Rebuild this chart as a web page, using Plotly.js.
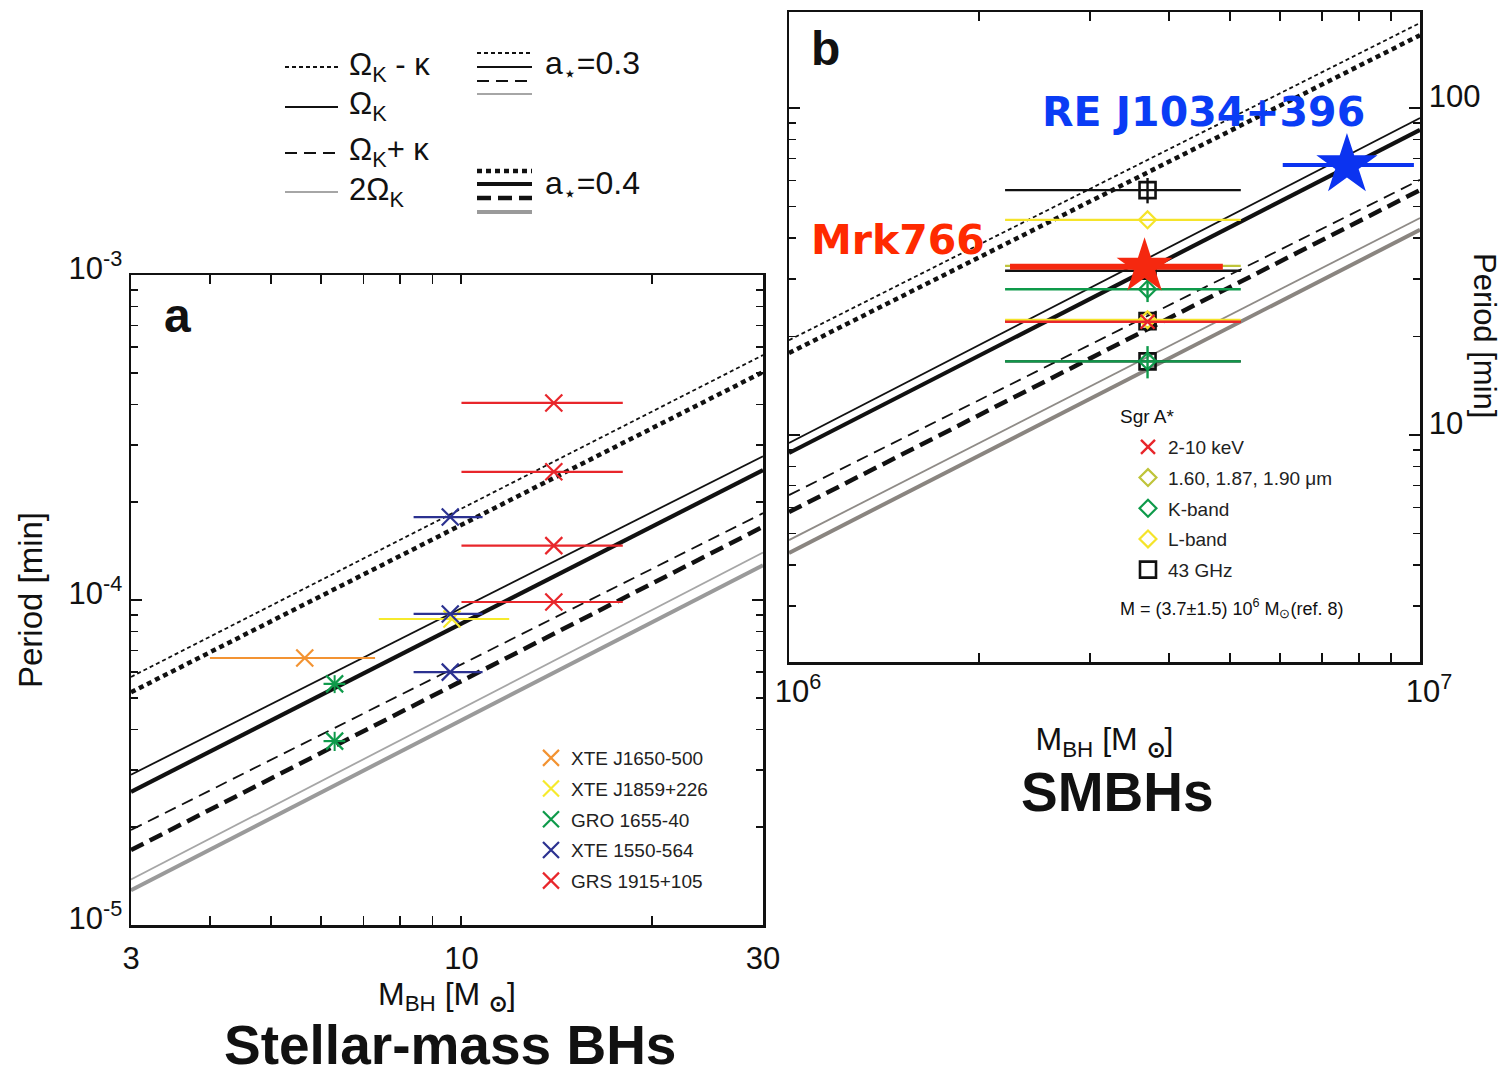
<!DOCTYPE html>
<html><head><meta charset="utf-8">
<script src="https://cdn.plot.ly/plotly-3.0.1.min.js"></script>
<style>html,body{margin:0;padding:0;background:#fff}#chart{width:1504px;height:1083px}</style>
</head><body><div id="chart"></div>
<script>
// ---------- DATA ----------
// Panel a: theoretical period lines, value at M = 3 and M = 30 Msun (min)
const massEndsA = [3, 30];
const pA_okMinusK_03 = [5.8e-5, 5.67e-4];
const pA_okMinusK_04 = [5.2e-5, 5.03e-4];
const pA_ok_03 = [2.9e-5, 2.77e-4];
const pA_ok_04 = [2.57e-5, 2.51e-4];
const pA_okPlusK_03 = [1.96e-5, 1.85e-4];
const pA_okPlusK_04 = [1.70e-5, 1.68e-4];
const pA_2ok_03 = [1.38e-5, 1.40e-4];
const pA_2ok_04 = [1.28e-5, 1.28e-4];

// Panel b: theoretical lines, value at M = 1e6 and 1e7 Msun (min)
const massEndsB = [1e6, 1e7];
const pB_okMinusK_03 = [19.5, 182];
const pB_okMinusK_04 = [17.8, 167];
const pB_ok_03 = [9.45, 93.2];
const pB_ok_04 = [8.81, 85.7];
const pB_okPlusK_03 = [6.55, 60.3];
const pB_okPlusK_04 = [5.81, 56.1];
const pB_2ok_03 = [4.77, 46.1];
const pB_2ok_04 = [4.36, 42.4];

// Stellar-mass BH QPOs
const sources = ['XTE J1650-500', 'XTE J1859+226', 'GRO 1655-40', 'XTE 1550-564', 'GRS 1915+105'];
const srcMass = [5.65, 9.66, 6.3, 9.6, 14.0];
const srcMassLo = [4.0, 7.4, 6.05, 8.4, 10.0];
const srcMassHi = [7.3, 11.9, 6.55, 10.8, 18.0];
const period_J1650 = [6.63e-5];
const period_J1859 = [8.74e-5];
const period_GRO1655 = [5.52e-5, 3.68e-5];
const periodErr_GRO1655 = [3.5e-6, 2.5e-6];
const period_XTE1550 = [1.80e-4, 9.06e-5, 6.0e-5];
const period_GRS1915 = [4.04e-4, 2.48e-4, 1.47e-4, 9.86e-5];

// Sgr A*
const sgrLabels = ['2-10 keV', '1.60, 1.87, 1.90 \u03bcm', 'K-band', 'L-band', '43 GHz'];
const sgrMass = 3.7e6, sgrMassLo = 2.2e6, sgrMassHi = 5.2e6;
const sgrXray = [22.2];
const sgrNIR = [32.9];
const sgrK = [27.9, 16.8];
const sgrKErr = [2.4, 1.9];
const sgrL = [45.5, 22.5];
const sgr43 = [56.1, 31.8, 22.3, 16.8];
const sgr43Err = [5.0, 0, 0, 0];

// AGN
const mrkMass = 3.66e6, mrkMassLo = 2.24e6, mrkMassHi = 4.87e6, mrkPeriod = 32.7;
const reMass = 7.66e6, reMassLo = 6.06e6, reMassHi = 9.78e6, rePeriod = 66.9;

// ---------- LAYOUT HELPERS ----------
const W = 1504, H = 1083;
const px = x => x / W;
const py = y => 1 - y / H;
const FONT = 'Liberation Sans, Arial, Helvetica, sans-serif';

const st = {
  dotThin: {color: '#111', width: 1.8, dash: '4px,3px'},
  dotThick: {color: '#111', width: 4.5, dash: '5px,4px'},
  solThin: {color: '#111', width: 1.8, dash: 'solid'},
  solThick: {color: '#111', width: 4.2, dash: 'solid'},
  dashThin: {color: '#111', width: 1.8, dash: '12px,7px'},
  dashThick: {color: '#111', width: 4.5, dash: '14px,7px'},
  grayThinA: {color: '#A6A6A6', width: 1.8, dash: 'solid'},
  grayThickA: {color: '#9A9A9A', width: 4, dash: 'solid'},
  grayThinB: {color: '#8F8B87', width: 1.8, dash: 'solid'},
  grayThickB: {color: '#8A8580', width: 4, dash: 'solid'}
};

const traces = [];
function line(x, y, s, xa, ya) {
  traces.push({x: x, y: y, xaxis: xa, yaxis: ya, mode: 'lines', line: s, showlegend: false, hoverinfo: 'skip'});
}
// panel a lines
line(massEndsA, pA_okMinusK_03, st.dotThin, 'x', 'y');
line(massEndsA, pA_okMinusK_04, st.dotThick, 'x', 'y');
line(massEndsA, pA_ok_03, st.solThin, 'x', 'y');
line(massEndsA, pA_ok_04, st.solThick, 'x', 'y');
line(massEndsA, pA_okPlusK_03, st.dashThin, 'x', 'y');
line(massEndsA, pA_okPlusK_04, st.dashThick, 'x', 'y');
line(massEndsA, pA_2ok_03, st.grayThinA, 'x', 'y');
line(massEndsA, pA_2ok_04, st.grayThickA, 'x', 'y');
// panel b lines
line(massEndsB, pB_okMinusK_03, st.dotThin, 'x2', 'y2');
line(massEndsB, pB_okMinusK_04, st.dotThick, 'x2', 'y2');
line(massEndsB, pB_ok_03, st.solThin, 'x2', 'y2');
line(massEndsB, pB_ok_04, st.solThick, 'x2', 'y2');
line(massEndsB, pB_okPlusK_03, st.dashThin, 'x2', 'y2');
line(massEndsB, pB_okPlusK_04, st.dashThick, 'x2', 'y2');
line(massEndsB, pB_2ok_03, st.grayThinB, 'x2', 'y2');
line(massEndsB, pB_2ok_04, st.grayThickB, 'x2', 'y2');

// stellar-mass sources
const srcColors = ['#F39332', '#F6EA2C', '#0E9A4A', '#2B3190', '#E8262B'];
const srcPeriods = [period_J1650, period_J1859, period_GRO1655, period_XTE1550, period_GRS1915];
sources.forEach((name, i) => {
  const ys = srcPeriods[i];
  const xs = ys.map(() => srcMass[i]);
  const t = {
    x: xs, y: ys, xaxis: 'x', yaxis: 'y', mode: 'markers', name: name, legend: 'legend', legendgroup: 'a' + i,
    marker: {symbol: 'x-thin-open', size: 17, color: srcColors[i], line: {color: srcColors[i], width: 2.2}},
    error_x: {type: 'data', symmetric: false, array: xs.map(() => srcMassHi[i] - srcMass[i]),
      arrayminus: xs.map(() => srcMass[i] - srcMassLo[i]), width: 0, thickness: 2.2, color: srcColors[i]},
    hoverinfo: 'skip'
  };
  if (i === 2) t.error_y = {type: 'data', array: periodErr_GRO1655, width: 0, thickness: 2, color: srcColors[i]};
  traces.push(t);
});

// Sgr A*
function sgrTrace(ys, label, rank, symbol, size, color, lw, yerr) {
  const xs = ys.map(() => sgrMass);
  const t = {
    x: xs, y: ys, xaxis: 'x2', yaxis: 'y2', mode: 'markers', name: label, legend: 'legend2', legendrank: rank,
    legendgroup: 'b' + rank,
    marker: {symbol: symbol, size: size, color: color, line: {color: color, width: lw}},
    error_x: {type: 'data', symmetric: false, array: xs.map(() => sgrMassHi - sgrMass),
      arrayminus: xs.map(() => sgrMass - sgrMassLo), width: 0, thickness: 2.4, color: color},
    hoverinfo: 'skip'
  };
  if (yerr) t.error_y = {type: 'data', array: yerr, width: 0, thickness: 2.4, color: color};
  traces.push(t);
}
sgrTrace(sgr43, sgrLabels[4], 5, 'square-open', 16, '#111', 2.6, sgr43Err);
sgrTrace(sgrNIR, sgrLabels[1], 2, 'diamond-open', 13, '#BFC43A', 2.2);
sgrTrace(sgrK, sgrLabels[2], 3, 'diamond-open', 13, '#0E9A4A', 2.2, sgrKErr);
sgrTrace(sgrL, sgrLabels[3], 4, 'diamond-open', 13, '#F5E42A', 2.2);
sgrTrace(sgrXray, sgrLabels[0], 1, 'x-thin-open', 14, '#E8262B', 2.4);

// Mrk766 & RE J1034+396
traces.push({x: [mrkMass], y: [mrkPeriod], xaxis: 'x2', yaxis: 'y2', mode: 'markers', showlegend: false,
  marker: {symbol: 'star', size: 42, color: '#F5280F', line: {width: 0}},
  error_x: {type: 'data', symmetric: false, array: [mrkMassHi - mrkMass], arrayminus: [mrkMass - mrkMassLo], width: 0, thickness: 6, color: '#F5280F'},
  hoverinfo: 'skip'});
traces.push({x: [reMass], y: [rePeriod], xaxis: 'x2', yaxis: 'y2', mode: 'markers', showlegend: false,
  marker: {symbol: 'star', size: 46, color: '#0B33F0', line: {width: 0}},
  error_x: {type: 'data', symmetric: false, array: [reMassHi - reMass], arrayminus: [reMass - reMassLo], width: 0, thickness: 4, color: '#0B33F0'},
  hoverinfo: 'skip'});

// ---------- AXES ----------
const axBase = {
  type: 'log', showgrid: false, zeroline: false, showline: true, linewidth: 2.5, linecolor: '#111',
  mirror: 'ticks', ticks: 'inside', tickwidth: 2, tickcolor: '#111',
  tickfont: {size: 31, color: '#111', family: FONT}
};
const sun = '<sub><b>\u2299</b></sub>';
const xaxis = Object.assign({}, axBase, {
  domain: [px(131), px(763)], anchor: 'y', range: [Math.log10(3), Math.log10(30)],
  tickmode: 'array', tickvals: [3, 10, 30], ticktext: ['3', '10', '30'], ticklen: 9, ticklabelstandoff: 4,
  minor: {tickmode: 'array', tickvals: [4, 5, 6, 7, 8, 9, 20], ticks: 'inside', ticklen: 9, tickwidth: 1.6, tickcolor: '#111'},
  title: {text: 'M<sub>BH</sub> [M ' + sun + ']', font: {size: 32, color: '#111', family: FONT}, standoff: 6}
});
const yaxis = Object.assign({}, axBase, {
  domain: [py(925), py(275)], anchor: 'x', range: [-5, -3],
  tickmode: 'array', tickvals: [1e-5, 1e-4, 1e-3], ticktext: ['10<sup>-5</sup>', '10<sup>-4</sup>', '10<sup>-3</sup>'], ticklen: 11,
  ticklabelshift: -7,
  minor: {tickmode: 'array', tickvals: [2e-5, 3e-5, 4e-5, 5e-5, 6e-5, 7e-5, 8e-5, 9e-5, 2e-4, 3e-4, 4e-4, 5e-4, 6e-4, 7e-4, 8e-4, 9e-4],
    ticks: 'inside', ticklen: 7, tickwidth: 1.6, tickcolor: '#111'},
  title: {text: 'Period [min]', font: {size: 33, color: '#111', family: FONT}, standoff: 16}
});
const xaxis2 = Object.assign({}, axBase, {
  domain: [px(789), px(1420)], anchor: 'y2', range: [6, 7],
  tickmode: 'array', tickvals: [1e6, 1e7], ticktext: ['10<sup>6</sup>', '10<sup>7</sup>'], ticklen: 9,
  ticklabelshift: 9,
  minor: {tickmode: 'array', tickvals: [2e6, 3e6, 4e6, 5e6, 6e6, 7e6, 8e6, 9e6], ticks: 'inside', ticklen: 9, tickwidth: 1.6, tickcolor: '#111'},
  title: {text: 'M<sub>BH</sub> [M ' + sun + ']', font: {size: 32, color: '#111', family: FONT}, standoff: 20}
});
const yaxis2 = Object.assign({}, axBase, {
  domain: [py(662), py(12)], anchor: 'x2', side: 'right', range: [0.3058, 2.2936],
  tickmode: 'array', tickvals: [10, 100], ticktext: ['10', '100'], ticklen: 11,
  ticklabelshift: -12,
  minor: {tickmode: 'array', tickvals: [3, 4, 5, 6, 7, 8, 9, 20, 30, 40, 50, 60, 70, 80, 90],
    ticks: 'inside', ticklen: 7, tickwidth: 1.6, tickcolor: '#111'}
});

// ---------- ANNOTATIONS ----------
function ann(text, x, y, size, opts) {
  return Object.assign({text: text, x: px(x), y: py(y), xref: 'paper', yref: 'paper', showarrow: false,
    xanchor: 'center', yanchor: 'middle', font: {size: size, color: '#111', family: FONT}}, opts || {});
}
const annotations = [
  ann('<b>a</b>', 177, 315, 48),
  ann('<b>b</b>', 825, 48, 48),
  ann('<b>RE J1034+396</b>', 1203, 112, 41, {font: {size: 41, color: '#0A3CF5', family: 'DejaVu Sans, sans-serif'}}),
  ann('<b>Mrk766</b>', 898, 240, 41, {font: {size: 41, color: '#FF2A00', family: 'DejaVu Sans, sans-serif'}}),
  ann('<b>Stellar-mass BHs</b>', 450, 1045, 55),
  ann('<b>SMBHs</b>', 1117, 792, 55),
  ann('Period [min]', 1484, 335, 31, {textangle: 90}),
  ann('Sgr A*', 1118, 416, 19, {xanchor: 'left'}),
  ann('M = (3.7\u00b11.5) 10<sup>6</sup> M<sub>\u2299</sub>(ref. 8)', 1118, 608, 18, {xanchor: 'left'}),
  // line-style key
  ann('\u03a9<sub>K</sub> - \u03ba', 347, 67, 31, {xanchor: 'left'}),
  ann('\u03a9<sub>K</sub>', 347, 106, 31, {xanchor: 'left'}),
  ann('\u03a9<sub>K</sub>+ \u03ba', 347, 152, 31, {xanchor: 'left'}),
  ann('2\u03a9<sub>K</sub>', 347, 192, 31, {xanchor: 'left'}),
  ann('a<sub>\u22c6</sub>=0.3', 543, 66, 32, {xanchor: 'left'}),
  ann('a<sub>\u22c6</sub>=0.4', 543, 185, 32, {xanchor: 'left'})
];

function keyLine(x0, x1, y, s) {
  return {type: 'line', xref: 'paper', yref: 'paper', x0: px(x0), x1: px(x1), y0: py(y), y1: py(y), line: s};
}
const shapes = [
  keyLine(285, 338, 67, st.dotThin),
  keyLine(285, 338, 107, st.solThin),
  keyLine(285, 338, 153, st.dashThin),
  keyLine(285, 338, 192, st.grayThinA),
  keyLine(477, 532, 53, st.dotThin),
  keyLine(477, 532, 67, st.solThin),
  keyLine(477, 532, 81, st.dashThin),
  keyLine(477, 532, 94, st.grayThinA),
  keyLine(477, 532, 171, st.dotThick),
  keyLine(477, 532, 184, st.solThick),
  keyLine(477, 532, 198, st.dashThick),
  keyLine(477, 532, 212, st.grayThickA)
];

const layout = {
  width: W, height: H, margin: {l: 0, r: 0, t: 0, b: 0},
  paper_bgcolor: '#fff', plot_bgcolor: '#fff',
  font: {family: FONT, color: '#111'},
  showlegend: true,
  legend: {x: px(531), y: py(739), xanchor: 'left', yanchor: 'top', bgcolor: 'rgba(0,0,0,0)',
    font: {size: 19, color: '#222', family: FONT}, tracegroupgap: 3, traceorder: 'grouped'},
  legend2: {x: px(1128), y: py(428), xanchor: 'left', yanchor: 'top', bgcolor: 'rgba(0,0,0,0)',
    font: {size: 19, color: '#222', family: FONT}, tracegroupgap: 3, traceorder: 'grouped'},
  xaxis: xaxis, yaxis: yaxis, xaxis2: xaxis2, yaxis2: yaxis2,
  annotations: annotations, shapes: shapes, hovermode: false
};

Plotly.newPlot('chart', traces, layout, {staticPlot: true, displayModeBar: false});
</script></body></html>
